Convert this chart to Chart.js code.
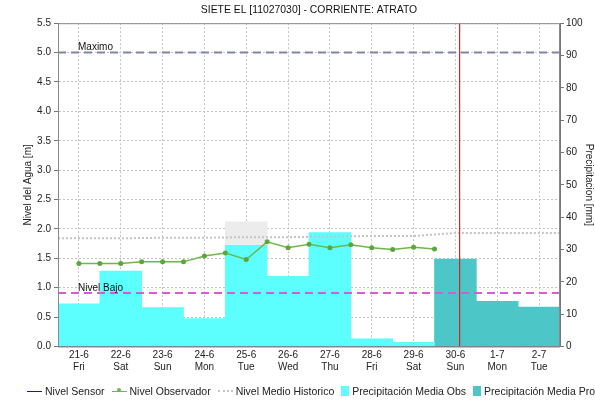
<!DOCTYPE html>
<html>
<head>
<meta charset="utf-8">
<script src="https://cdn.jsdelivr.net/npm/chart.js@4.4.1/dist/chart.umd.min.js"></script>
<style>
  body { margin: 0; background: #fff; }
  #caja { position: relative; width: 595px; height: 401px; overflow: hidden; font-family: "Liberation Sans", Arial, sans-serif; }
  #leyenda { position: absolute; left: 27px; top: 385px; display: flex; align-items: center; white-space: nowrap; font-size: 10.5px; color: #222; }
  #leyenda .item { display: flex; align-items: center; margin-right: 7px; }
  #leyenda .sw { margin-right: 3px; position: relative; }
</style>
</head>
<body>
<div id="caja">
  <canvas id="grafico" width="595" height="401"></canvas>
  <div id="leyenda"></div>
</div>
<script>
// categorias (dias)
const fechas = ['21-6', '22-6', '23-6', '24-6', '25-6', '26-6', '27-6', '28-6', '29-6', '30-6', '1-7', '2-7'];
const dias = ['Fri', 'Sat', 'Sun', 'Mon', 'Tue', 'Wed', 'Thu', 'Fri', 'Sat', 'Sun', 'Mon', 'Tue'];

// precipitacion [mm]
const precipObs = [13.2, 23.3, 12.0, 8.6, 31.3, 21.7, 35.2, 2.4, 1.3, null, null, null];
const precipPro = [null, null, null, null, null, null, null, null, null, 27.0, 14.0, 12.2];

// nivel observador [m], cada 12 horas desde 21-6
const nivelObservador = [1.41, 1.41, 1.41, 1.44, 1.44, 1.44, 1.54, 1.59, 1.48, 1.78,
                         1.68, 1.74, 1.68, 1.73, 1.68, 1.65, 1.69, 1.66];

// nivel medio historico [m] por dia
const nivelHistorico = [1.84, 1.84, 1.85, 1.85, 1.86, 1.86, 1.87, 1.88, 1.88, 1.93, 1.93, 1.93];

// rango historico mostrado el 25-6
const rangoHistorico = [null, null, null, null, [1.48, 2.12], null, null, null, null, null, null, null];

// umbrales y momento actual
const nivelMaximo = 5.0;
const nivelBajo = 0.91;
const ahora = 9.6; // en dias desde el inicio del 21-6

const ticksNivel = [0, 5.5, 0.5];
const ticksPrecip = [0, 100, 10];

const etiquetas = fechas.map((f, i) => [f, dias[i]]);
const puntosObs = nivelObservador.map((v, i) => ({ x: 0.5 + i * 0.5, y: v }));
const puntosHist = [{ x: 0, y: nivelHistorico[0] }]
  .concat(nivelHistorico.map((v, i) => ({ x: i + 0.5, y: v })))
  .concat([{ x: fechas.length, y: nivelHistorico[nivelHistorico.length - 1] }]);

const fuente = { family: '"Liberation Sans", Arial, sans-serif', size: 10 };

// textos de los umbrales y marco del area
const marcas = {
  id: 'marcas',
  afterDatasetsDraw(chart) {
    const { ctx, chartArea, scales } = chart;
    ctx.save();
    ctx.strokeStyle = '#8a8a8a';
    ctx.lineWidth = 1;
    ctx.strokeRect(chartArea.left + 0.5, chartArea.top + 0.5, chartArea.right - chartArea.left - 1, chartArea.bottom - chartArea.top);
    ctx.fillStyle = '#111';
    ctx.font = '10px "Liberation Sans", Arial, sans-serif';
    ctx.textBaseline = 'bottom';
    ctx.fillText('Maximo', chartArea.left + 20, scales.y.getPixelForValue(nivelMaximo));
    ctx.fillText('Nivel Bajo', chartArea.left + 20, scales.y.getPixelForValue(nivelBajo));
    ctx.restore();
  }
};

new Chart(document.getElementById('grafico'), {
  type: 'bar',
  data: {
    labels: etiquetas,
    datasets: [
      {
        type: 'line', label: 'Nivel Sensor', data: [], xAxisID: 'xl', yAxisID: 'y',
        borderColor: '#1a1a9a', borderWidth: 2, pointRadius: 0, order: 0
      },
      {
        type: 'line', label: 'Nivel Observador', data: puntosObs, xAxisID: 'xl', yAxisID: 'y',
        borderColor: '#6cb84a', backgroundColor: '#5aa83a', borderWidth: 1.5,
        pointRadius: 2.5, pointBorderWidth: 0, order: 0
      },
      {
        type: 'line', label: 'Nivel Medio Historico', data: puntosHist, xAxisID: 'xl', yAxisID: 'y',
        borderColor: '#c4c4c4', borderWidth: 2, borderDash: [2, 2], pointRadius: 0, order: 1
      },
      {
        type: 'line', label: 'Maximo', data: [{ x: 0, y: nivelMaximo }, { x: fechas.length, y: nivelMaximo }],
        xAxisID: 'xl', yAxisID: 'y', borderColor: '#7d88a4', borderWidth: 2, borderDash: [8, 5],
        pointRadius: 0, order: 0
      },
      {
        type: 'line', label: 'Nivel Bajo', data: [{ x: 0, y: nivelBajo }, { x: fechas.length, y: nivelBajo }],
        xAxisID: 'xl', yAxisID: 'y', borderColor: '#d95ad9', borderWidth: 2, borderDash: [8, 5],
        pointRadius: 0, order: 0
      },
      {
        type: 'line', label: 'Ahora', data: [{ x: ahora, y: ticksNivel[0] }, { x: ahora, y: ticksNivel[1] }],
        xAxisID: 'xl', yAxisID: 'y', borderColor: '#cc2a2a', borderWidth: 1.2, pointRadius: 0, order: 0
      },
      {
        label: 'Precipitación Media Obs', data: precipObs, xAxisID: 'x', yAxisID: 'y2',
        backgroundColor: '#5cfefe', grouped: false, barPercentage: 1, categoryPercentage: 1, order: 2
      },
      {
        label: 'Precipitación Media Pro', data: precipPro, xAxisID: 'x', yAxisID: 'y2',
        backgroundColor: '#4cc6c6', grouped: false, barPercentage: 1, categoryPercentage: 1, order: 2
      },
      {
        label: 'Rango', data: rangoHistorico, xAxisID: 'x', yAxisID: 'y',
        backgroundColor: '#ececec', grouped: false, barPercentage: 1, categoryPercentage: 1, order: 3
      }
    ]
  },
  options: {
    responsive: false,
    animation: false,
    layout: { padding: { left: 0, right: 0, top: 0, bottom: 0 } },
    plugins: {
      legend: { display: false },
      tooltip: { enabled: false },
      title: {
        display: true, fullSize: false, text: 'SIETE EL [11027030] - CORRIENTE: ATRATO', color: '#111',
        font: { family: fuente.family, size: 10.4, weight: 'normal' }, padding: { top: 4, bottom: 6.7 }
      }
    },
    scales: {
      x: {
        type: 'category', offset: true,
        grid: { offset: false, color: '#c4c4c4', drawTicks: false },
        border: { color: '#777', dash: [2, 2] },
        ticks: { color: '#222', font: fuente, padding: 3, maxRotation: 0, autoSkip: false },
        afterFit(s) { s.height = 54.5; }
      },
      xl: { type: 'linear', display: false, offset: false, min: 0, max: fechas.length },
      y: {
        position: 'left', min: ticksNivel[0], max: ticksNivel[1],
        ticks: { stepSize: ticksNivel[2], color: '#222', font: fuente, padding: 3, callback: v => v.toFixed(1) },
        grid: { color: '#c4c4c4', tickLength: 4, tickColor: '#777' },
        border: { color: '#777', dash: [2, 2] },
        title: { display: true, text: 'Nivel del Agua [m]', color: '#222', font: fuente, padding: { top: 22, bottom: 0 } },
        afterFit(s) { s.width = 58; }
      },
      y2: {
        position: 'right', min: ticksPrecip[0], max: ticksPrecip[1],
        ticks: { stepSize: ticksPrecip[2], color: '#222', font: fuente, padding: 2 },
        grid: { drawOnChartArea: false, tickLength: 4, tickColor: '#777' },
        border: { color: '#777' },
        title: { display: true, text: 'Precipitacion [mm]', color: '#222', font: fuente, padding: { top: 0, bottom: 0 } },
        afterFit(s) { s.width = 35; }
      }
    }
  },
  plugins: [marcas]
});

// leyenda (como en la imagen, recortada a la derecha)
const itemsLeyenda = [
  { texto: 'Nivel Sensor', tipo: 'linea', color: '#1a1a9a' },
  { texto: 'Nivel Observador', tipo: 'punto', color: '#6cb84a' },
  { texto: 'Nivel Medio Historico', tipo: 'puntos', color: '#c4c4c4' },
  { texto: 'Precipitación Media Obs', tipo: 'caja', color: '#5cfefe' },
  { texto: 'Precipitación Media Pro', tipo: 'caja', color: '#4cc6c6' }
];
const leyenda = document.getElementById('leyenda');
itemsLeyenda.forEach(it => {
  const item = document.createElement('div');
  item.className = 'item';
  const sw = document.createElement('span');
  sw.className = 'sw';
  if (it.tipo === 'caja') {
    sw.style.cssText = `width:8px;height:10px;background:${it.color};`;
  } else if (it.tipo === 'puntos') {
    sw.style.cssText = `width:15px;height:0;border-top:2px dotted ${it.color};`;
  } else {
    sw.style.cssText = `width:15px;height:0;border-top:1.5px solid ${it.color};`;
    if (it.tipo === 'punto') {
      const dot = document.createElement('span');
      dot.style.cssText = `position:absolute;left:5px;top:-3.5px;width:4px;height:4px;border-radius:50%;background:${it.color};`;
      sw.appendChild(dot);
    }
  }
  const txt = document.createElement('span');
  txt.textContent = it.texto;
  item.appendChild(sw);
  item.appendChild(txt);
  leyenda.appendChild(item);
});
</script>
</body>
</html>
